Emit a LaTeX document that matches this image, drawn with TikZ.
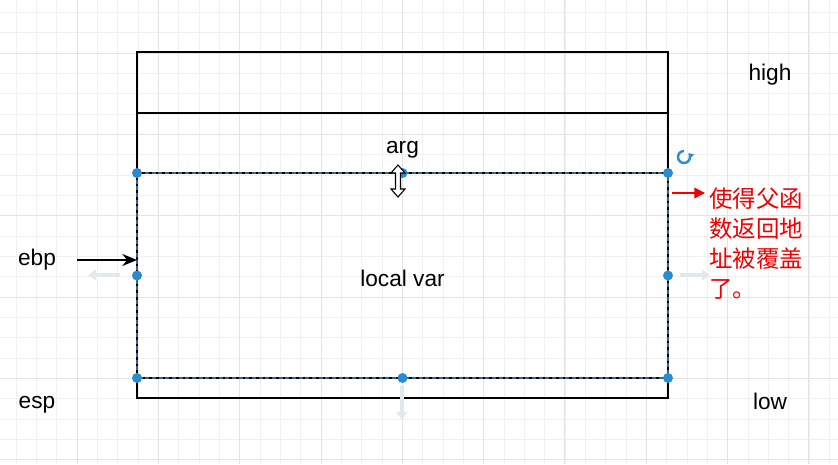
\documentclass[tikz,border=0pt]{standalone}
\usepackage{fontspec}
\setmainfont{Liberation Sans}
\newfontfamily\cjk{Noto Sans CJK SC}
\usetikzlibrary{arrows.meta,positioning,calc}
\definecolor{handleblue}{RGB}{41,140,210}
\definecolor{selline}{RGB}{60,100,130}
\definecolor{hintgray}{RGB}{226,233,237}
\definecolor{notered}{RGB}{240,0,0}

\begin{document}
\begin{tikzpicture}[
  x=0.75pt, y=-0.75pt,
  cell/.style={draw, line width=1.5pt, minimum width=398.25pt,
               inner sep=0pt, outer sep=0pt},
  lbl/.style={font=\fontsize{17}{20}\selectfont, inner sep=0pt},
  handle/.style={fill=handleblue},
  hint/.style={draw=hintgray, line width=3pt,
               -{Triangle[length=6pt,width=8pt]}},
  arr/.style={draw, line width=1.5pt, -{Stealth[length=11pt,width=9pt]}},
  redarr/.style={draw=notered, line width=1.2pt,
                 -{Triangle[length=8pt,width=8pt]}}
]
\fill[white] (0,0) rectangle (838,464);
\useasboundingbox (0,0) rectangle (838,464);

% grid of the canvas
\begin{scope}[shift={(77,53)}]
\draw[black!6, line width=0.5pt, step=15.25pt] (-77,411) grid (761,-53);
\draw[black!11, line width=0.6pt, step=60.98pt] (-77,411) grid (761,-53);
\end{scope}

% stack frame
\node[cell, minimum height=45.75pt, anchor=north west] (top) at (137,52) {};
\node[cell, minimum height=45pt, below=0pt of top] (arg) {};
\node[cell, minimum height=153.75pt, below=0pt of arg] (local) {};
\node[cell, minimum height=15pt, below=0pt of local] (bottom) {};
\node[lbl] (argname) at ($(arg.center)+(0,7)$) {arg};
\node[lbl] (localname) at ($(local.center)+(0,3)$) {local var};

\node[lbl] (high) at (770,75) {high};
\node[lbl] (low) at (770,401) {low};
\node[lbl] (ebp) at (37,260) {ebp};
\node[lbl] (esp) at (37,405) {esp};

\draw[arr] ([xshift=15.5pt]ebp.east) -- (ebp -| local.west);

% hover hints
\draw[hint] (120,275) -- (88,275);
\draw[hint] (680,275) -- (710,275);
\draw[hint] (402,386) -- (402,420);

% selection
\draw[selline, line width=0.8pt, dash pattern=on 3pt off 2pt]
  (local.north west) rectangle (local.south east);
\foreach \a in {north west,north,north east,west,east,south west,south,south east}
  \fill[handle] (local.\a) circle (3.75pt);

% rotate icon
\draw[handleblue, line width=1.8pt, -{Triangle[length=3.5pt,width=5pt]}]
  (684,151) arc[start angle=90, end angle=400, radius=4.5pt];

% resize cursor
\draw[line width=0.8pt, fill=white]
  (398,165) -- (405,173) -- (400.5,173) -- (400.5,189) -- (405,189)
  -- (398,197) -- (391,189) -- (395.5,189) -- (395.5,173) -- (391,173) -- cycle;

% note
\node[font=\cjk\fontsize{17.6}{22.5}\selectfont, text=notered, align=left,
      anchor=north west, inner sep=0pt] (note) at (709,187)
  {使得父函\\数返回地\\址被覆盖\\了。};
\coordinate (redfrom) at (672,193);
\draw[redarr, shorten >=3pt] (redfrom) -- (redfrom -| note.west);
\end{tikzpicture}
\end{document}
